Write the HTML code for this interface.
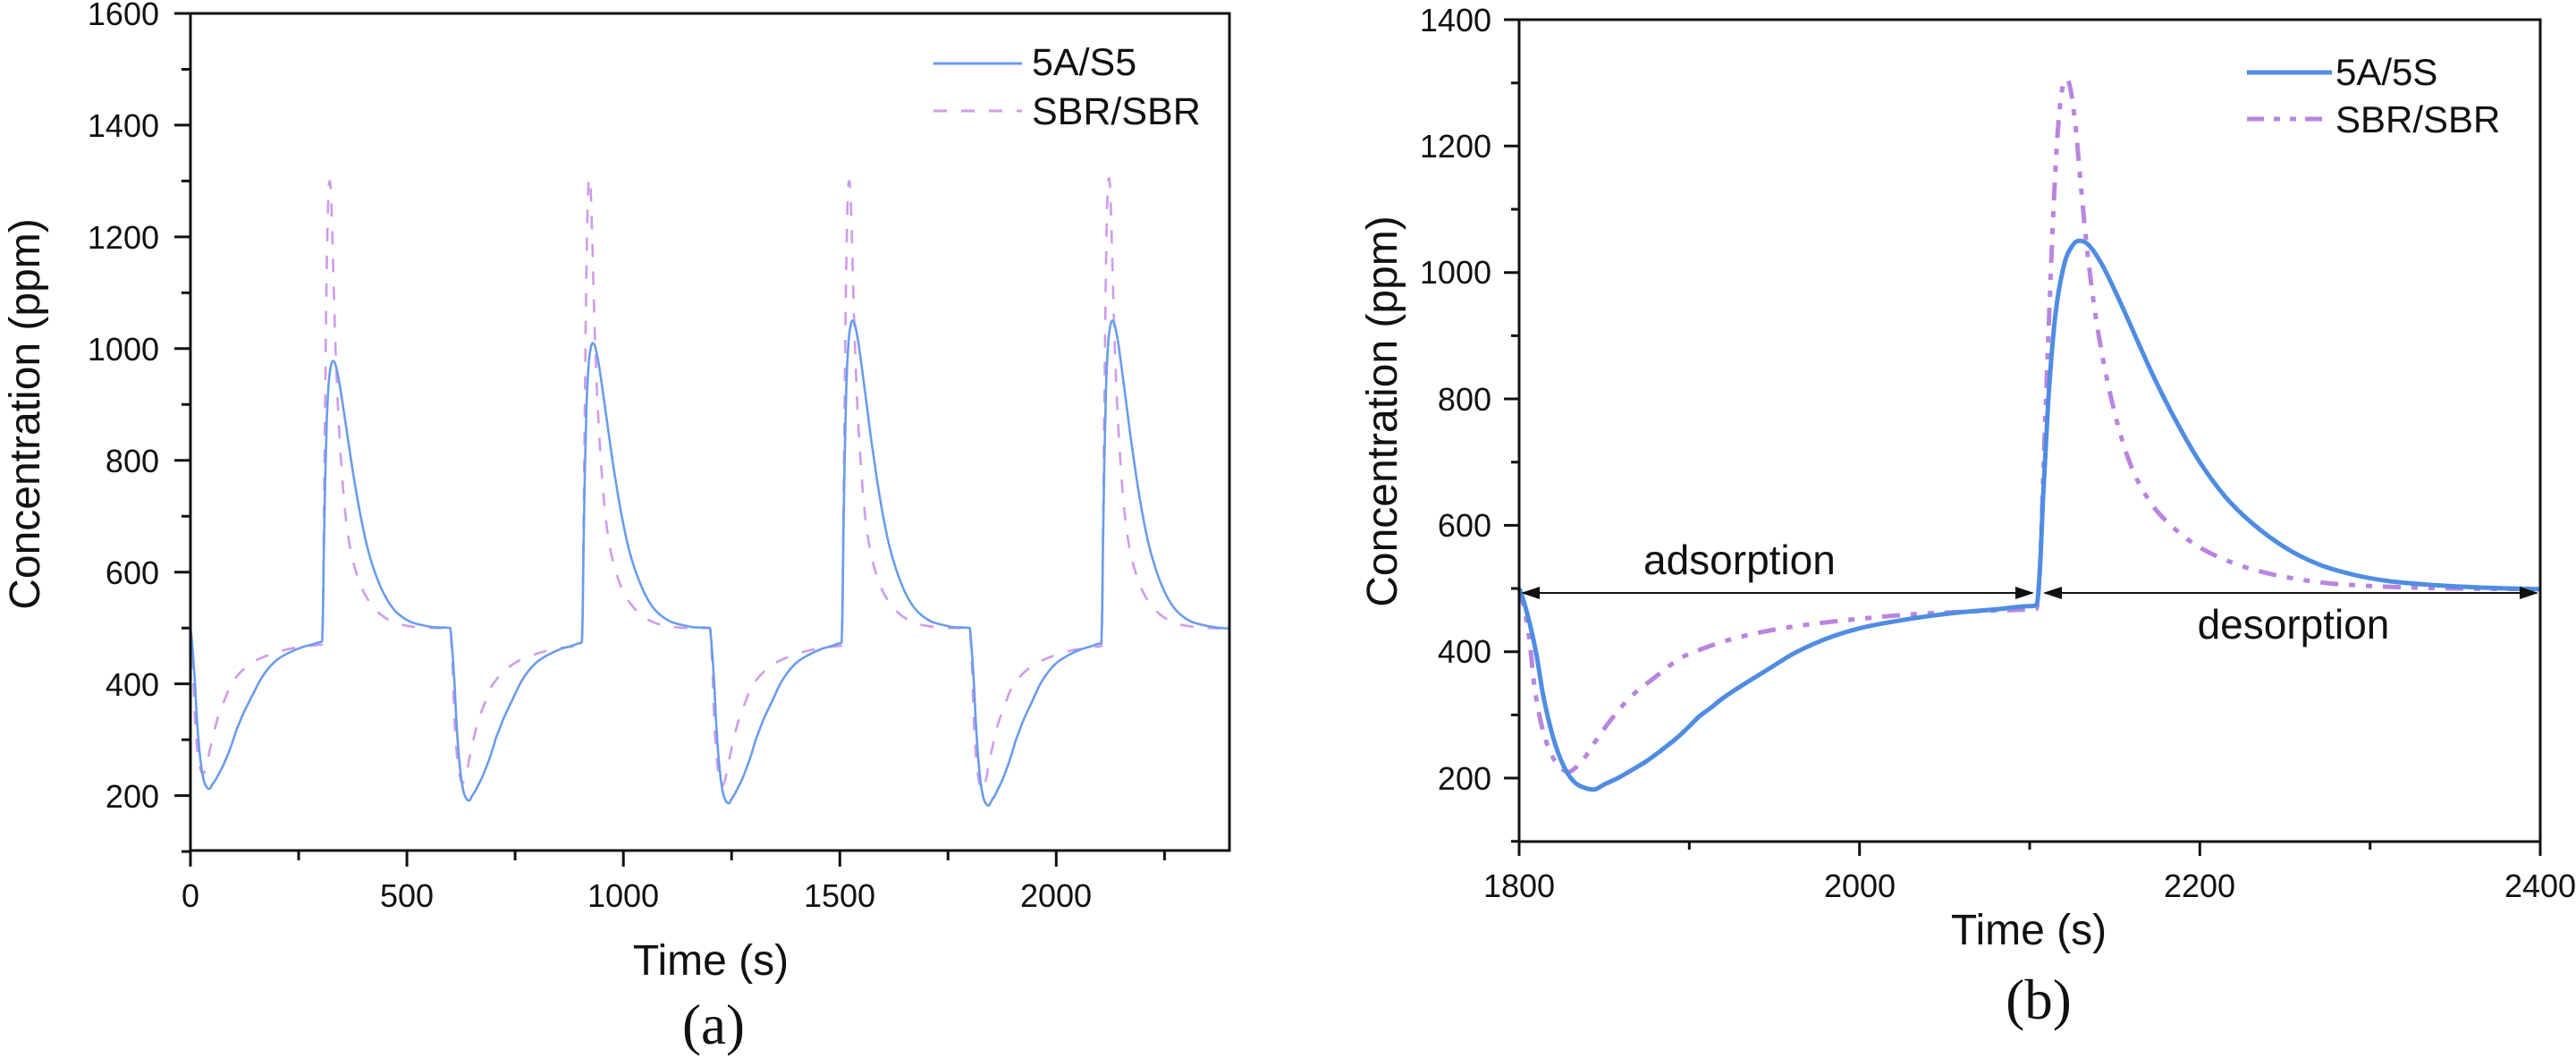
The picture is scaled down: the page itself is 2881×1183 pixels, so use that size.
<!DOCTYPE html>
<html>
<head>
<meta charset="utf-8">
<style>
  html,body{margin:0;padding:0;background:#fff;}
  body{width:2881px;height:1183px;overflow:hidden;}
  svg{display:block;}
  text{font-family:"Liberation Sans", Arial, sans-serif;fill:#111;}
  .serif{font-family:"Liberation Serif", "Times New Roman", serif;}
</style>
</head>
<body>
<svg id="fig" width="2881" height="1183" viewBox="0 0 2881 1183" xmlns="http://www.w3.org/2000/svg">
  <rect x="0" y="0" width="2881" height="1183" fill="#fff"/>

  <!-- ================= LEFT PANEL (a) ================= -->
  <path id="lPurple" d="" fill="none" stroke="#CF9BEC" stroke-width="2.6" stroke-dasharray="15 16" stroke-linejoin="round"/>
  <path id="lBlue" d="" fill="none" stroke="#6A9CEB" stroke-width="2.6" stroke-linejoin="round"/>

  <rect x="213" y="15" width="1162" height="936" fill="none" stroke="#111" stroke-width="3"/>
  <path id="lTicks" d="" stroke="#111" stroke-width="3" fill="none"/>

  <g font-size="36" text-anchor="end">
    <text x="178" y="28">1600</text>
    <text x="178" y="153">1400</text>
    <text x="178" y="278">1200</text>
    <text x="178" y="403">1000</text>
    <text x="178" y="528">800</text>
    <text x="178" y="653">600</text>
    <text x="178" y="778">400</text>
    <text x="178" y="903">200</text>
  </g>
  <g font-size="36" text-anchor="middle">
    <text x="213" y="1014">0</text>
    <text x="455" y="1014">500</text>
    <text x="697" y="1014">1000</text>
    <text x="939" y="1014">1500</text>
    <text x="1181" y="1014">2000</text>
  </g>
  <text x="795" y="1090" font-size="48" text-anchor="middle">Time (s)</text>
  <text transform="translate(44,463) rotate(-90)" font-size="48" text-anchor="middle">Concentration (ppm)</text>
  <text class="serif" x="798" y="1167" font-size="63" text-anchor="middle">(a)</text>

  <!-- legend a -->
  <line x1="1044" y1="71" x2="1143" y2="71" stroke="#6A9CEB" stroke-width="3"/>
  <line x1="1044" y1="124" x2="1143" y2="124" stroke="#CF9BEC" stroke-width="3" stroke-dasharray="15 16"/>
  <text x="1154" y="84" font-size="43">5A/S5</text>
  <text x="1154" y="139" font-size="43">SBR/SBR</text>

  <!-- ================= RIGHT PANEL (b) ================= -->
  <path id="rPurple" d="" fill="none" stroke="#B985E0" stroke-width="5" stroke-dasharray="20 12 7 12 7 12" stroke-linejoin="round"/>
  <path id="rBlue" d="" fill="none" stroke="#4F8DE2" stroke-width="5" stroke-linejoin="round"/>

  <rect x="1699" y="22" width="1142" height="919" fill="none" stroke="#111" stroke-width="3"/>
  <path id="rTicks" d="" stroke="#111" stroke-width="3" fill="none"/>

  <g font-size="36" text-anchor="end">
    <text x="1668" y="35">1400</text>
    <text x="1668" y="176">1200</text>
    <text x="1668" y="317">1000</text>
    <text x="1668" y="459">800</text>
    <text x="1668" y="600">600</text>
    <text x="1668" y="741">400</text>
    <text x="1668" y="883">200</text>
  </g>
  <g font-size="36" text-anchor="middle">
    <text x="1699" y="1003">1800</text>
    <text x="2080" y="1003">2000</text>
    <text x="2460" y="1003">2200</text>
    <text x="2841" y="1003">2400</text>
  </g>
  <text x="2269" y="1056" font-size="48" text-anchor="middle">Time (s)</text>
  <text transform="translate(1562,460) rotate(-90)" font-size="48" text-anchor="middle">Concentration (ppm)</text>
  <text class="serif" x="2280" y="1139" font-size="63" text-anchor="middle">(b)</text>

  <!-- annotations -->
  <line x1="1703" y1="663" x2="2273" y2="663" stroke="#111" stroke-width="2"/>
  <line x1="2287" y1="663" x2="2837" y2="663" stroke="#111" stroke-width="2"/>
  <polygon points="1701,663 1722,656 1722,670" fill="#111"/>
  <polygon points="2275,663 2254,656 2254,670" fill="#111"/>
  <polygon points="2285,663 2306,656 2306,670" fill="#111"/>
  <polygon points="2839,663 2818,656 2818,670" fill="#111"/>
  <text x="1838" y="642" font-size="46">adsorption</text>
  <text x="2565" y="714" font-size="46" text-anchor="middle">desorption</text>

  <!-- legend b -->
  <line x1="2513" y1="81" x2="2608" y2="81" stroke="#4F8DE2" stroke-width="5"/>
  <line x1="2513" y1="133" x2="2608" y2="133" stroke="#B985E0" stroke-width="5" stroke-dasharray="19 11 7 11 7 10"/>
  <text x="2612" y="95" font-size="42">5A/5S</text>
  <text x="2612" y="148" font-size="42">SBR/SBR</text>
</svg>

<script>
(function(){
  var L={x:function(t){return 213+t*0.48417;}, y:function(v){return 15+(1600-v)*0.6247;}};
  var R={x:function(t){return 1699+(t-1800)*1.9033;}, y:function(v){return 22+(1400-v)*0.7067;}};

  function mono(P){
    var n=P.length,d=[],m=[],i;
    for(i=0;i<n-1;i++){var h=P[i+1][0]-P[i][0]; d[i]=h===0?0:(P[i+1][1]-P[i][1])/h;}
    m[0]=d[0]; m[n-1]=d[n-2];
    for(i=1;i<n-1;i++){ m[i]=(d[i-1]*d[i]<=0)?0:(d[i-1]+d[i])/2; }
    for(i=0;i<n-1;i++){
      if(d[i]===0){m[i]=0;m[i+1]=0;continue;}
      var a=m[i]/d[i], b=m[i+1]/d[i], s=a*a+b*b;
      if(s>9){var tt=3/Math.sqrt(s); m[i]=tt*a*d[i]; m[i+1]=tt*b*d[i];}
    }
    var str='M'+P[0][0].toFixed(1)+','+P[0][1].toFixed(1);
    for(i=0;i<n-1;i++){
      var h2=P[i+1][0]-P[i][0];
      str+='C'+(P[i][0]+h2/3).toFixed(1)+','+(P[i][1]+m[i]*h2/3).toFixed(1)+' '+
           (P[i+1][0]-h2/3).toFixed(1)+','+(P[i+1][1]-m[i+1]*h2/3).toFixed(1)+' '+
           P[i+1][0].toFixed(1)+','+P[i+1][1].toFixed(1);
    }
    return str;
  }

  var blue=[[0,500],[2,486],[5,458],[10,398],[14,333],[20,264],[26,220],[32,195],[38,185],[44,182],
    [50,190],[58,200],[67,214],[75,227],[83,243],[92,262],[100,282],[106,298],[112,310],[120,327],
    [130,345],[145,370],[162,398],[180,420],[200,437],[225,450],[258,462],[280,467],[300,472],[304,474],
    [306,530],[308,650],[311,800],[315,930],[320,1010],[325,1042],[329,1050],[334,1045],[342,1015],
    [352,960],[362,900],[372,840],[385,770],[400,700],[415,645],[430,605],[450,565],[470,538],
    [490,522],[510,512],[540,505],[570,501],[600,499]];
  var purple=[[0,500],[3,468],[6,420],[9,345],[12,298],[16,257],[20,232],[25,215],[29,210],[33,216],
    [39,234],[44,255],[53,289],[65,327],[80,360],[95,390],[107,404],[125,420],[150,435],[170,443],
    [200,452],[230,459],[260,463],[290,466],[302,467],[304,468],[306,530],[308,680],[311,900],
    [314,1100],[317,1240],[320,1300],[322,1305],[324,1290],[327,1230],[330,1140],[334,1030],
    [340,910],[348,800],[358,705],[370,640],[385,595],[400,565],[420,540],[440,524],[470,510],
    [500,504],[550,500],[600,499]];

  function cycle(tpl,minT,minK,peakT,peakK){
    return tpl.map(function(p){
      var v=p[1];
      if(p[0]<=304 && v<500){ v=500-(500-v)*(500-minK)/(500-minT); }
      else if(p[0]>304 && v>500){ v=500+(v-500)*(peakK-500)/(peakT-500); }
      return [p[0],v];
    });
  }

  function buildLeft(tpl,minT,mins,peakT,peaks){
    var pts=[];
    for(var k=0;k<4;k++){
      var c=cycle(tpl,minT,mins[k],peakT,peaks[k]);
      for(var j=0;j<c.length;j++){
        if(k<3 && j===c.length-1) continue;
        pts.push([L.x(600*k+c[j][0]), L.y(c[j][1])]);
      }
    }
    return mono(pts);
  }

  document.getElementById('lBlue').setAttribute('d', buildLeft(blue,182,[212,191,186,182],1050,[978,1010,1050,1050]));
  document.getElementById('lPurple').setAttribute('d', buildLeft(purple,210,[238,222,218,210],1305,[1300,1305,1300,1305]));

  document.getElementById('rBlue').setAttribute('d', mono(blue.map(function(p){return [R.x(1800+p[0]),R.y(p[1])];})));
  document.getElementById('rPurple').setAttribute('d', mono(purple.map(function(p){return [R.x(1800+p[0]),R.y(p[1])];})));

  // ticks
  var s='',v,t,len,y,x;
  for(v=100;v<=1600;v+=100){ len=(v%200===0)?18:10; y=L.y(v).toFixed(1); s+='M'+(213-len)+','+y+'H213'; }
  for(t=0;t<=2250;t+=250){ len=(t%500===0)?18:11; x=L.x(t).toFixed(1); s+='M'+x+',951V'+(951+len); }
  document.getElementById('lTicks').setAttribute('d',s);
  s='';
  for(v=100;v<=1400;v+=100){ len=(v%200===0)?17:9; y=R.y(v).toFixed(1); s+='M'+(1699-len)+','+y+'H1699'; }
  for(t=1800;t<=2400;t+=100){ len=((t-1800)%200===0)?16:9; x=R.x(t).toFixed(1); s+='M'+x+',941V'+(941+len); }
  document.getElementById('rTicks').setAttribute('d',s);
})();
</script>
</body>
</html>
